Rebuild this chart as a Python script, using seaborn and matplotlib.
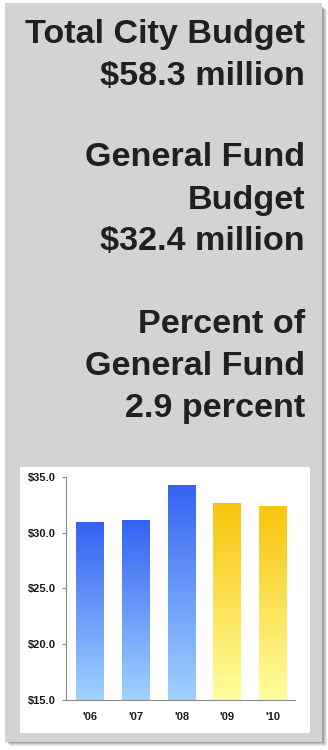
import numpy as np
import pandas as pd
import matplotlib
matplotlib.use("Agg")
import matplotlib.pyplot as plt
from matplotlib.patches import Rectangle
from matplotlib.colors import LinearSegmentedColormap
import seaborn as sns

# General fund budget by fiscal year, $ millions
years = ["'06", "'07", "'08", "'09", "'10"]
budget = [30.9, 31.1, 34.3, 32.6, 32.4]
period = ["actual", "actual", "actual", "projected", "projected"]
y_ticks = [15.0, 20.0, 25.0, 30.0, 35.0]
y_tick_labels = ["$15.0", "$20.0", "$25.0", "$30.0", "$35.0"]

summary_lines = [
    "Total City Budget", "$58.3 million",
    "General Fund", "Budget", "$32.4 million",
    "Percent of", "General Fund", "2.9 percent",
]
summary_baselines = [43, 84.5, 166.5, 208.5, 250, 333, 374.5, 416.5]

# gradient colours (top, bottom) per period
gradients = {
    "actual": ("#3562f2", "#a0d2ff"),
    "projected": ("#f8c40c", "#fffe9e"),
}

sns.set_theme(style="white")
plt.rcParams["font.family"] = ["Liberation Sans", "DejaVu Sans"]

W, H = 328, 750
fig = plt.figure(figsize=(W / 100, H / 100), dpi=100)
fig.patch.set_facecolor("white")


def fx(px):
    return px / W


def fy(py):
    return 1 - py / H


# drop shadow of the grey panel
for i, a in enumerate([0.10, 0.14, 0.18, 0.26]):
    off = 4.5 - i
    fig.patches.append(Rectangle((fx(5 + off), fy(741.5 + off)),
                                 fx(317), 736 / H,
                                 transform=fig.transFigure,
                                 facecolor="#555555", alpha=a,
                                 edgecolor="none", zorder=0))
# grey panel
fig.patches.append(Rectangle((fx(5), fy(741.5)), fx(316.5), 738.5 / H,
                             transform=fig.transFigure,
                             facecolor="#d1d3d4", edgecolor="none", zorder=1))
# white chart card
fig.patches.append(Rectangle((fx(20), fy(732.5)), fx(290), 265.5 / H,
                             transform=fig.transFigure,
                             facecolor="white", edgecolor="none", zorder=2))

for line, base in zip(summary_lines, summary_baselines):
    fig.text(fx(305), fy(base), line, ha="right", va="baseline",
             fontsize=24.6, fontweight="bold", color="#231f20", zorder=5)

# bar chart
ax = fig.add_axes([fx(66), fy(700), fx(295 - 66), (700 - 476.7) / H])
ax.set_facecolor("none")
ax.set_zorder(3)

df = pd.DataFrame({"year": years, "budget": budget, "period": period})
sns.barplot(data=df, x="year", y="budget", hue="period",
            palette={k: v[0] for k, v in gradients.items()},
            dodge=False, width=0.61, legend=False, ax=ax)

ax.set_ylim(15, 35)
ax.set_xlim(-0.53, 4.48)

# paint a vertical gradient inside each bar
for patch, per in zip(ax.patches, period):
    x0, y0 = patch.get_x(), patch.get_y()
    w, h = patch.get_width(), patch.get_height()
    top_c, bot_c = gradients[per]
    cmap = LinearSegmentedColormap.from_list("g", [bot_c, top_c])
    lo = max(y0, 15)
    grad = np.linspace(1, 0, 256).reshape(-1, 1)
    im = ax.imshow(grad, extent=(x0, x0 + w, lo, y0 + h), aspect="auto",
                   cmap=cmap, vmin=0, vmax=1, origin="upper", zorder=2)
    im.set_clip_path(patch)
    patch.set_facecolor("none")
    patch.set_edgecolor("none")

ax.set_ylim(15, 35)
ax.set_xlim(-0.53, 4.48)
ax.set_yticks(y_ticks)
ax.set_yticklabels(y_tick_labels)
ax.set_xlabel("")
ax.set_ylabel("")

for s in ["top", "right"]:
    ax.spines[s].set_visible(False)
for s in ["left", "bottom"]:
    ax.spines[s].set_color("#8a8a8a")
    ax.spines[s].set_linewidth(0.8)

ax.tick_params(axis="y", length=3, width=0.8, color="#8a8a8a", pad=4.5,
               labelsize=8, labelcolor="#1a1a1a", left=True)
ax.tick_params(axis="x", length=0, pad=9, labelsize=8, labelcolor="#1a1a1a")
for lab in ax.get_xticklabels() + ax.get_yticklabels():
    lab.set_fontweight("bold")

fig.savefig("out.png", dpi=100)
